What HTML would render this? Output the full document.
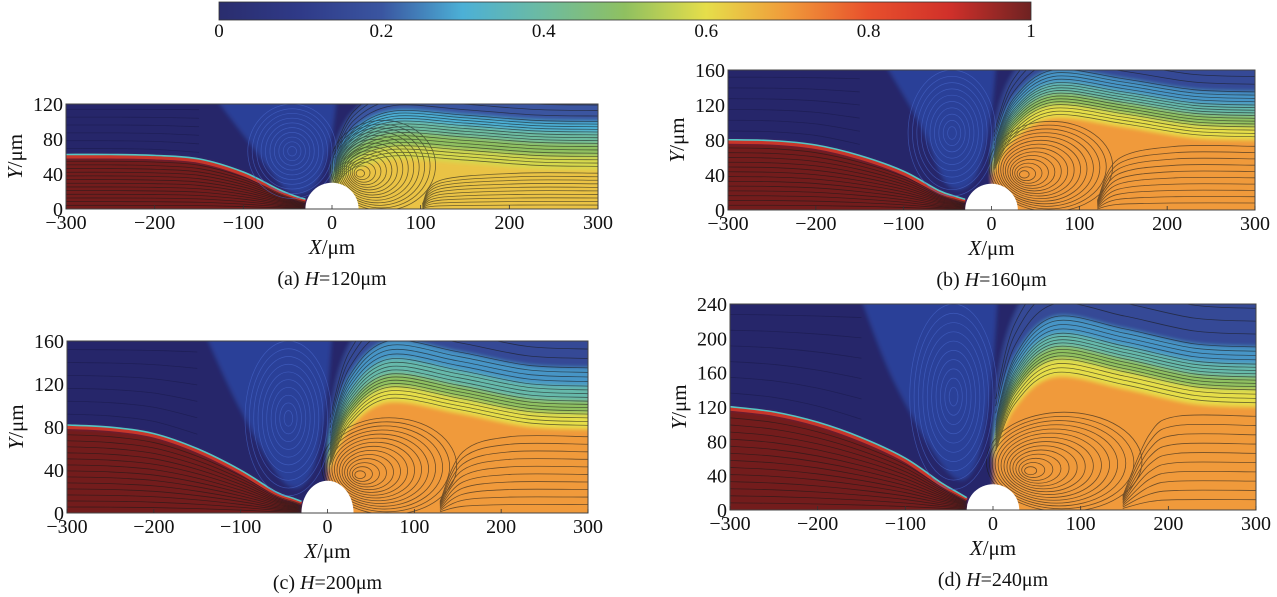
<!DOCTYPE html>
<html><head><meta charset="utf-8">
<style>
html,body{margin:0;padding:0;background:#fff;}
svg{display:block;}
svg text{font-family:"Liberation Serif","DejaVu Serif",serif;}
</style></head>
<body>
<svg id="fig" width="1277" height="597" viewBox="0 0 1277 597" xmlns="http://www.w3.org/2000/svg" font-family="Liberation Serif, serif">
<defs>
<linearGradient id="cbar" x1="0" x2="1" y1="0" y2="0">
<stop offset="0" stop-color="#2a2d6e"/><stop offset="0.1" stop-color="#2f3a88"/><stop offset="0.2" stop-color="#3a55a0"/>
<stop offset="0.3" stop-color="#4cb0d6"/><stop offset="0.4" stop-color="#6dbba0"/><stop offset="0.5" stop-color="#8fc060"/>
<stop offset="0.6" stop-color="#e6de4a"/><stop offset="0.7" stop-color="#f09a3a"/><stop offset="0.8" stop-color="#e8502c"/>
<stop offset="0.9" stop-color="#d0302a"/><stop offset="1" stop-color="#6e2222"/>
</linearGradient>
<filter id="soft" x="-5%" y="-5%" width="110%" height="110%"><feGaussianBlur stdDeviation="2"/></filter>
</defs>
<g id="colorbar">
<rect x="219" y="2" width="812" height="18" fill="url(#cbar)" stroke="#333" stroke-width="0.8"/>
</g>
</svg>
<script>
// ---- data ----
const cbTicks = [0, 0.2, 0.4, 0.6, 0.8, 1];
const cbTickLabels = ["0", "0.2", "0.4", "0.6", "0.8", "1"];
const xTicks = [-300, -200, -100, 0, 100, 200, 300];
const heights = [120, 160, 200, 240];
const captions = ["(a) ", "(b) ", "(c) ", "(d) "];
const yTicksA = [0, 40, 80, 120];
const yTicksB = [0, 40, 80, 120, 160];
const yTicksC = [0, 40, 80, 120, 160];
const yTicksD = [0, 40, 80, 120, 160, 200, 240];
const domainH = [120, 160, 160, 240];
const ifaceX = [-300, -250, -200, -150, -100, -60, -40, -30];
const ifaceA = [60, 60, 59, 55, 40, 20, 12, 9];
const ifaceB = [78, 77, 72, 60, 42, 20, 13, 10];
const ifaceC = [80, 78, 72, 58, 38, 18, 12, 9];
const ifaceD = [118, 112, 100, 82, 58, 30, 18, 12];
const levelV = [0.2, 0.3, 0.4, 0.5, 0.58, 0.64];
const levelVbig = [0.16, 0.27, 0.38, 0.5, 0.6, 0.7];
const levelHA = [125, 100, 88, 75, 60, 45];
const levelHB = [170, 135, 120, 108, 95, 80];
const levelHC = [170, 135, 118, 104, 92, 78];
const levelHD = [250, 190, 170, 155, 140, 120];
const bumps = [12, 25, 25, 35];
const vortexR = [[30, 40], [35, 40], [35, 35], [40, 45]];
const vortexExtent = [80, 95, 105, 120];
const vortexL = [-130, -120, -140, -150];

// ---- layout (not data) ----
const boxes = [
  {L:66, R:598, T:104, B:209},
  {L:728, R:1255, T:70, B:210},
  {L:67, R:588, T:341, B:513},
  {L:730, R:1256, T:304, B:510}
];
const yTicksAll = [yTicksA, yTicksB, yTicksC, yTicksD];
const ifaces = [ifaceA, ifaceB, ifaceC, ifaceD];
const levelHs = [levelHA, levelHB, levelHC, levelHD];
const levelVs = [levelV, levelVbig, levelVbig, levelVbig];
const FONT = '"Liberation Serif", serif';

const NS = "http://www.w3.org/2000/svg";
const svg = document.getElementById("fig");
function mk(tag, attrs, parent){ const e=document.createElementNS(NS,tag); for(const k in attrs) e.setAttribute(k,attrs[k]); if(tag==="text") e.setAttribute("font-family",FONT); (parent||svg).appendChild(e); return e; }

const stops=[[0,[42,45,110]],[0.1,[47,58,136]],[0.2,[58,85,160]],[0.3,[76,176,214]],[0.4,[109,187,160]],[0.5,[143,192,96]],[0.6,[230,222,74]],[0.7,[240,154,58]],[0.8,[232,80,44]],[0.9,[208,48,42]],[1,[110,34,34]]];
function cmap(v){ for(let i=0;i<stops.length-1;i++){ const a=stops[i],b=stops[i+1]; if(v<=b[0]){ const t=(v-a[0])/(b[0]-a[0]); const c=a[1].map((x,j)=>Math.round(x+(b[1][j]-x)*t)); return `rgb(${c})`; } } return "rgb(110,34,34)"; }

function smooth(p){ let d=`M${p[0][0]},${p[0][1]}`; for(let i=0;i<p.length-1;i++){ const p0=p[i-1]||p[i],p1=p[i],p2=p[i+1],p3=p[i+2]||p2; const c1=[p1[0]+(p2[0]-p0[0])/6,p1[1]+(p2[1]-p0[1])/6]; const c2=[p2[0]-(p3[0]-p1[0])/6,p2[1]-(p3[1]-p1[1])/6]; d+=` C${c1[0]},${c1[1]} ${c2[0]},${c2[1]} ${p2[0]},${p2[1]}`; } return d; }

cbTicks.forEach((v,i)=>{
  const x=219+v*812;
  const t=mk("text",{x:x,y:37,"font-size":19,"text-anchor":"middle",fill:"#111"});
  
  
  t.textContent=cbTickLabels[i];
});

boxes.forEach((bx,p)=>{
  const H=domainH[p], W=bx.R-bx.L, Hp=bx.B-bx.T;
  const sx=x=>bx.L+(x+300)/600*W, sy=y=>bx.B-y/H*Hp;
  const g=mk("g",{});
  
  
  const cid="clip"+p;
  const cp=mk("clipPath",{id:cid},svg.querySelector("defs")); mk("rect",{x:bx.L,y:bx.T,width:W,height:Hp},cp);
  const field=mk("g",{"clip-path":`url(#${cid})`},g);
  const blur=mk("g",{filter:"url(#soft)"},field);
  mk("rect",{x:bx.L-5,y:bx.T-5,width:W+10,height:Hp+10,fill:"#27286b"},blur);
  const vl=vortexL[p];
  mk("path",{d:smooth([[sx(vl),sy(H+5)],[sx(vl+40),sy(H*0.6)],[sx(-50),sy(H*0.18)],[sx(-20),sy(H*0.22)],[sx(-3),sy(H*0.6)],[sx(5),sy(H+5)]])+"Z",fill:"#2c3f98"},blur);
  const lh=levelHs[p], lv=levelVs[p], b=bumps[p];
  lh.forEach((h,k)=>{
    const pts=[[2,28],[3,Math.min(h*0.55,H)],[25,h*0.85+b*0.5],[70,h+b],[150,h+b*0.6],[230,h+b*0.1],[305,h]].map(q=>[sx(q[0]),sy(q[1])]);
    const band=mk("path",{d:smooth(pts)+` L${sx(305)},${sy(-5)} L${sx(2)},${sy(-5)} Z`,fill:cmap(lv[k])},blur);
    
    
  });
  const ip=ifaceX.map((x,i)=>[sx(x),sy(ifaces[p][i])]);
  ip.unshift([sx(-305),sy(ifaces[p][0])]);
  const red=mk("path",{d:smooth(ip)+` L${sx(-30)},${sy(-5)} L${sx(-305)},${sy(-5)} Z`,fill:"#731c1c"},blur);
  
  
  mk("path",{d:smooth(ip),fill:"none",stroke:"#c8362a","stroke-width":4},field);
  mk("path",{d:smooth(ip.map(q=>[q[0],q[1]-2])),fill:"none",stroke:"#54c6c4","stroke-width":1.6},field);
  const sl=mk("g",{fill:"none",stroke:"#1a1a1a","stroke-width":0.8,opacity:0.6},field);
  
  
  for(let f=0.07;f<0.95;f+=0.07){ mk("path",{d:smooth(ip.map((q,i)=>[q[0],sy(ifaces[p][Math.max(0,i-1)]*f)]))},sl); }
  // dark top-left streamlines
  const slTop=mk("g",{fill:"none",stroke:"#1c1c50","stroke-width":0.8,opacity:0.7},field);
  for(let f=0.15;f<1;f+=0.15){ mk("path",{d:smooth(ip.slice(0,5).map((q,i)=>[q[0],sy(ifaces[p][Math.max(0,i-1)]+(H-ifaces[p][Math.max(0,i-1)])*f)]))},slTop); }
  for(let k=0;k<lh.length-1;k++){ for(let s=0;s<4;s++){ const h=lh[k]+(lh[k+1]-lh[k])*s/4; if(h>H+5) continue;
    const pts=[[3,Math.min(h*0.55,H)],[25,h*0.85+b*0.5],[70,h+b],[150,h+b*0.6],[230,h+b*0.1],[300,h]].map(q=>[sx(q[0]),sy(q[1])]);
    mk("path",{d:smooth(pts)},sl);} }
  const last=lh[lh.length-1];
  const [vx,vy]=vortexR[p], ve=vortexExtent[p];
  for(let f=0.1;f<0.98;f+=0.09){ const h=last*f; mk("path",{d:smooth([[sx(vx+ve*0.9),sy(h*0.15)],[sx(vx+ve*1.15),sy(h*0.8)],[sx(210),sy(h)],[sx(300),sy(h)]])},sl); }
  for(let r=0.07;r<=1.02;r+=0.07){ mk("ellipse",{cx:sx(vx+ve*r*0.35),cy:sy(vy+vy*0.25*r),rx:ve*r*0.75/600*W+0.5,ry:(vy*1.3*r)/H*Hp+0.5},sl); }
  const sl2=mk("g",{fill:"none",stroke:"#4a6ad0","stroke-width":0.7,opacity:0.6},field);
  for(let r=0.1;r<=1;r+=0.1){ mk("ellipse",{cx:sx(-45),cy:sy(H*0.55),rx:(50*r)/600*W,ry:(H*0.45*r)/H*Hp},sl2); }
  const cyl=mk("ellipse",{cx:sx(0),cy:sy(0),rx:30/600*W,ry:30/H*Hp,fill:"#fff"},field);
  
  
  mk("rect",{x:bx.L,y:bx.T,width:W,height:Hp,fill:"none",stroke:"#444","stroke-width":1},g);
  xTicks.forEach(x=>{
    mk("line",{x1:sx(x),x2:sx(x),y1:bx.B,y2:bx.B-4,stroke:"#333","stroke-width":0.8},g);
    const t=mk("text",{x:sx(x),y:bx.B+20,"font-size":20,"text-anchor":"middle",fill:"#111"},g);
    
    
    t.textContent=(x<0?"\u2212"+(-x):""+x);
  });
  yTicksAll[p].forEach(y=>{
    const t=mk("text",{x:bx.L-3,y:sy(y)+7,"font-size":20,"text-anchor":"end",fill:"#111"},g);
    
    
    t.textContent=y;
  });
  const xt=mk("text",{x:sx(0),y:bx.B+45,"font-size":21,"text-anchor":"middle",fill:"#111"},g);
  
  
  xt.innerHTML='<tspan font-style="italic">X</tspan>/μm';
  const yx=bx.L-44, yy=(bx.T+bx.B)/2;
  const yt=mk("text",{x:yx,y:yy,"font-size":21,"text-anchor":"middle",fill:"#111",transform:`rotate(-90 ${yx} ${yy})`},g);
  
  
  yt.innerHTML='<tspan font-style="italic">Y</tspan>/μm';
  const cap=mk("text",{x:sx(0),y:bx.B+76,"font-size":20,"text-anchor":"middle",fill:"#111"},g);
  
  
  cap.innerHTML=captions[p]+'<tspan font-style="italic">H</tspan>='+heights[p]+'μm';
});
</script>
</body></html>
